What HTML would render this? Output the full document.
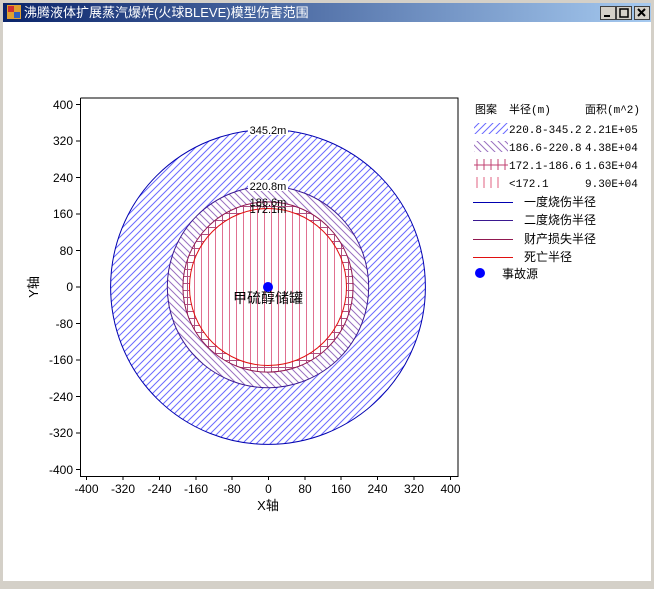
<!DOCTYPE html>
<html><head><meta charset="utf-8"><style>
body{margin:0;width:654px;height:584px;overflow:hidden;background:#d4d0c8;font-family:"Liberation Sans","Noto Sans CJK SC",sans-serif}
</style></head><body>
<svg width="654" height="584" xmlns="http://www.w3.org/2000/svg" font-family="'Liberation Sans','Noto Sans CJK SC',sans-serif">
<defs>
<linearGradient id="tb" x1="0" x2="1"><stop offset="0" stop-color="#0a246a"/><stop offset="1" stop-color="#a6caf0"/></linearGradient>
<pattern id="p1" width="7" height="7" patternUnits="userSpaceOnUse"><path d="M-1,8 L8,-1 M-1,1 L1,-1 M6,8 L8,6" stroke="#6a6aff" stroke-width="1"/></pattern>
<pattern id="p2" width="7" height="7" patternUnits="userSpaceOnUse"><path d="M-1,-1 L8,8 M-1,6 L1,8 M6,-1 L8,1" stroke="#9a70c0" stroke-width="1"/></pattern>
<pattern id="p3" width="7" height="7" patternUnits="userSpaceOnUse" x="268" y="287"><path d="M3.5,0 V7 M0,3.5 H7" stroke="#b05080" stroke-width="1"/></pattern>
<pattern id="p4" width="7" height="7" patternUnits="userSpaceOnUse" x="268"><path d="M3.5,0 V7" stroke="#e07090" stroke-width="1"/></pattern>
<clipPath id="cp"><rect x="81" y="98" width="377" height="378"/></clipPath>
</defs>
<rect x="0" y="0" width="654" height="584" fill="#d4d0c8"/>
<rect x="3" y="22" width="648" height="559" fill="#fff"/>
<rect x="3" y="3" width="648" height="19" fill="url(#tb)"/>
<rect x="7" y="5" width="14" height="14" fill="#e0a030"/><rect x="8" y="6" width="6" height="6" fill="#d03030"/><rect x="14" y="12" width="6" height="6" fill="#3060c0"/>
<text x="24" y="17" font-size="13" fill="#fff">沸腾液体扩展蒸汽爆炸(火球BLEVE)模型伤害范围</text>
<g fill="#d4d0c8" stroke="#404040" stroke-width="1">
<rect x="600.5" y="6.5" width="15" height="13"/><rect x="616.5" y="6.5" width="15" height="13"/><rect x="634.5" y="6.5" width="15" height="13"/></g>
<path d="M604,16h6" stroke="#000" stroke-width="2"/><rect x="620" y="9" width="8" height="8" fill="none" stroke="#000" stroke-width="1.5"/>
<path d="M638,9l7,7M645,9l-7,7" stroke="#000" stroke-width="2"/>
<g clip-path="url(#cp)">
<circle cx="268" cy="287" r="157.4" fill="#fff"/>
<circle cx="268" cy="287" r="157.4" fill="url(#p1)" stroke="#0000b0"/>
<circle cx="268" cy="287" r="100.7" fill="#fff"/>
<circle cx="268" cy="287" r="100.7" fill="url(#p2)" stroke="#3a1890"/>
<circle cx="268" cy="287" r="85.1" fill="#fff"/>
<circle cx="268" cy="287" r="85.1" fill="url(#p3)" stroke="#901850"/>
<circle cx="268" cy="287" r="78.5" fill="#fff"/>
<circle cx="268" cy="287" r="78.5" fill="url(#p4)" stroke="#e01010"/>
</g>
<g font-size="11" text-anchor="middle" fill="#000">
<rect x="248" y="124" width="40" height="11" fill="#fff"/><text x="268" y="134">345.2m</text>
<rect x="248" y="180" width="40" height="11" fill="#fff"/><text x="268" y="190">220.8m</text>
<text x="268" y="206">186.6m</text>
<text x="268" y="213">172.1m</text>
</g>
<circle cx="268" cy="287" r="5" fill="#0000ff"/>
<text x="268" y="303" font-size="14" text-anchor="middle">甲硫醇储罐</text>
<path d="M80.5,98V476.5H458V98H80.5" fill="none" stroke="#000"/>
<g stroke="#000">
<path d="M86.5,476v4M123,476v4M159.5,476v4M196,476v4M232,476v4M268.5,476v4M305,476v4M341,476v4M377.5,476v4M414,476v4M450.5,476v4"/>
<path d="M76,104.5h4M76,141h4M76,177.5h4M76,214h4M76,250.5h4M76,287h4M76,323.5h4M76,360h4M76,396.5h4M76,433h4M76,469.5h4"/>
</g>
<g font-size="12" text-anchor="middle">
<text x="86.5" y="493">-400</text><text x="123" y="493">-320</text><text x="159.5" y="493">-240</text><text x="196" y="493">-160</text><text x="232" y="493">-80</text><text x="268.5" y="493">0</text><text x="305" y="493">80</text><text x="341" y="493">160</text><text x="377.5" y="493">240</text><text x="414" y="493">320</text><text x="450.5" y="493">400</text>
<text x="268" y="510" font-size="13">X轴</text>
</g>
<g font-size="12" text-anchor="end">
<text x="73" y="109">400</text><text x="73" y="145">320</text><text x="73" y="182">240</text><text x="73" y="218">160</text><text x="73" y="255">80</text><text x="73" y="291">0</text><text x="73" y="328">-80</text><text x="73" y="364">-160</text><text x="73" y="401">-240</text><text x="73" y="437">-320</text><text x="73" y="474">-400</text>
</g>
<text transform="translate(38,287) rotate(-90)" font-size="13" text-anchor="middle">Y轴</text>
<g font-size="11" font-family="'Liberation Mono','Noto Sans CJK SC',monospace">
<text x="475" y="113">图案</text><text x="509" y="113">半径(m)</text><text x="585" y="113">面积(m^2)</text>
<rect x="474" y="123" width="34" height="11" fill="url(#p1)"/><text x="509" y="133">220.8-345.2</text><text x="585" y="133">2.21E+05</text>
<rect x="474" y="141" width="34" height="11" fill="url(#p2)"/><text x="509" y="151">186.6-220.8</text><text x="585" y="151">4.38E+04</text>
<path d="M474,165H508M477,159v11M484,159v11M491,159v11M498,159v11M505,159v11" stroke="#c04070"/><text x="509" y="169">172.1-186.6</text><text x="585" y="169">1.63E+04</text>
<path d="M477,177v11M484,177v11M491,177v11M498,177v11" stroke="#e06080"/><text x="509" y="187">&lt;172.1</text><text x="585" y="187">9.30E+04</text>
</g>
<g font-size="12">
<path d="M473,202.5h40" stroke="#0000b0"/><text x="524" y="206">一度烧伤半径</text>
<path d="M473,220.5h40" stroke="#3a1890"/><text x="524" y="224">二度烧伤半径</text>
<path d="M473,239.5h40" stroke="#901850"/><text x="524" y="243">财产损失半径</text>
<path d="M473,257.5h40" stroke="#e01010"/><text x="524" y="261">死亡半径</text>
<circle cx="480" cy="273" r="5" fill="#0000ff"/><text x="502" y="278">事故源</text>
</g>
</svg>
</body></html>
